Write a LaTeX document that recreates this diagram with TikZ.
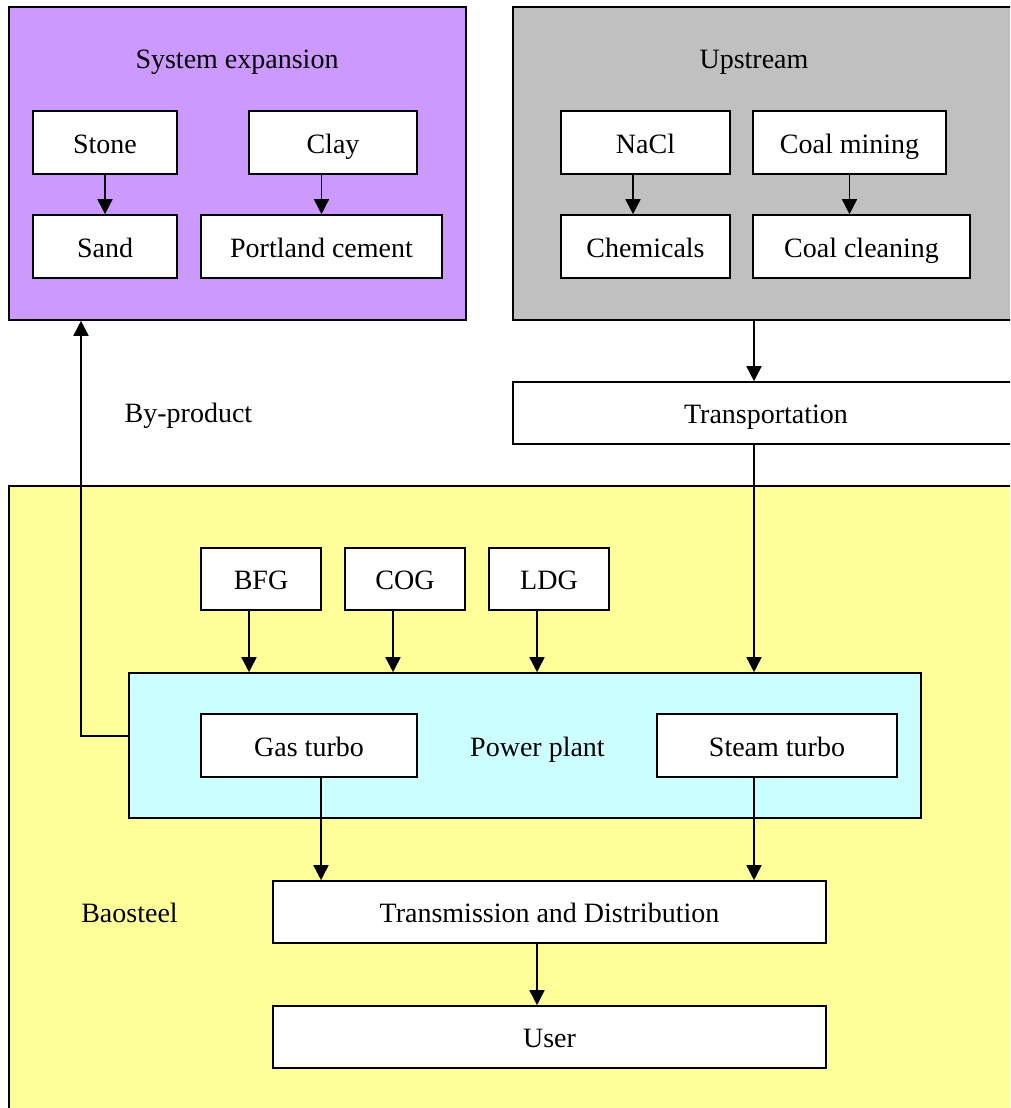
\documentclass[tikz,border=0pt]{standalone}
\usepackage{fontspec}
\setmainfont{Liberation Serif}
\usetikzlibrary{arrows.meta}
\definecolor{cpurple}{HTML}{CC99FF}
\definecolor{cgray}{HTML}{C0C0C0}
\definecolor{cyellow}{HTML}{FFFF99}
\definecolor{ccyan}{HTML}{CCFFFF}
\begin{document}
\begin{tikzpicture}[x=1pt,y=-1pt,
  every node/.style={font=\fontsize{28}{33}\selectfont, inner sep=0pt, text height=24pt, text depth=3pt},
  box/.style={draw, fill=white, line width=1.6pt, rectangle},
  grp/.style={draw, line width=1.6pt, rectangle},
  arr/.style={line width=1.6pt, -{Triangle[length=15pt,width=15pt]}}]
\useasboundingbox (0,0) rectangle (1010,1108);
\clip (0,0) rectangle (1010,1108);
% containers
\node[grp, fill=cpurple, minimum width=457pt, minimum height=313pt] (sysexp) at (237.5,163.5) {};
\node[grp, fill=cgray, minimum width=503pt, minimum height=313pt] (upstream) at (764.5,163.5) {};
\node[grp, fill=cyellow, minimum width=1007pt, minimum height=629pt] (baosteel) at (512.5,800.5) {};
\node[grp, fill=ccyan, minimum width=792pt, minimum height=145pt] (pp) at (525,745.5) {};
% titles and labels
\node (tsys) at (237,58) {System expansion};
\node (tup) at (754,58) {Upstream};
\node (tpp) at (537.5,745.5) {Power plant};
\node (tby) at (188.5,412) {By-product};
\node (tbao) at (129.5,912) {Baosteel};
% boxes
\node[box, minimum width=144pt, minimum height=63pt] (stone) at (105,142.5) {Stone};
\node[box, minimum width=168pt, minimum height=63pt] (clay) at (333,142.5) {Clay};
\node[box, minimum width=144pt, minimum height=63pt] (sand) at (105,246.5) {Sand};
\node[box, minimum width=241pt, minimum height=63pt] (portland) at (321.5,246.5) {Portland cement};
\node[box, minimum width=169pt, minimum height=63pt] (nacl) at (645.5,142.5) {NaCl};
\node[box, minimum width=193pt, minimum height=63pt] (coalmin) at (849.5,142.5) {Coal mining};
\node[box, minimum width=169pt, minimum height=63pt] (chem) at (645.5,246.5) {Chemicals};
\node[box, minimum width=217pt, minimum height=63pt] (coalclean) at (861.5,246.5) {Coal cleaning};
\node[box, minimum width=503pt, minimum height=62pt] (transport) at (764.5,413) {};
\node (ttransport) at (766,413) {Transportation};
\node[box, minimum width=120pt, minimum height=62pt] (bfg) at (261,579) {BFG};
\node[box, minimum width=120pt, minimum height=62pt] (cog) at (405,579) {COG};
\node[box, minimum width=120pt, minimum height=62pt] (ldg) at (549,579) {LDG};
\node[box, minimum width=216pt, minimum height=63pt] (gas) at (309,745.5) {Gas turbo};
\node[box, minimum width=240pt, minimum height=63pt] (steam) at (777,745.5) {Steam turbo};
\node[box, minimum width=553pt, minimum height=62pt] (trans) at (549.5,912) {Transmission and Distribution};
\node[box, minimum width=553pt, minimum height=62pt] (user) at (549.5,1037) {User};
% connectors
\coordinate (c754) at (754,0);
\coordinate (c81) at (81,0);
\draw[arr] (stone) -- (sand);
\draw[arr] (clay.south -| portland) -- (portland);
\draw[arr] ([xshift=-12.5pt]nacl.south) -- ([xshift=-12.5pt]chem.north);
\draw[arr] (coalmin) -- (coalmin.south |- coalclean.north);
\draw[arr] (upstream.south -| c754) -- (transport.north -| c754);
\draw[arr] (transport.south -| c754) -- (pp.north -| c754);
\draw[arr] ([xshift=-12pt]bfg.south) -- ([xshift=-12pt]bfg.south |- pp.north);
\draw[arr] ([xshift=-12pt]cog.south) -- ([xshift=-12pt]cog.south |- pp.north);
\draw[arr] ([xshift=-12pt]ldg.south) -- ([xshift=-12pt]ldg.south |- pp.north);
\draw[arr] ([xshift=12pt]gas.south) -- ([xshift=12pt]gas.south |- trans.north);
\draw[arr] (steam.south -| c754) -- (trans.north -| c754);
\draw[arr] ([xshift=-12.5pt]trans.south) -- ([xshift=-12.5pt]user.north);
\draw[arr] ([yshift=9.5pt]pp.west) -| (sysexp.south -| c81);
\end{tikzpicture}
\end{document}
